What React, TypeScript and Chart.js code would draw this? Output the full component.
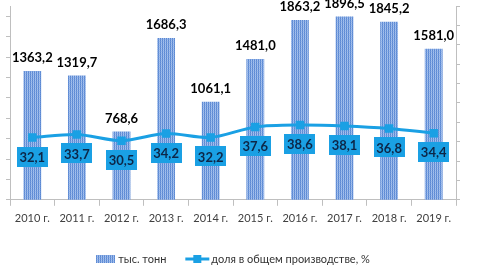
import React, { useEffect, useRef } from "react";
import { Chart, registerables } from "chart.js";

Chart.register(...registerables);

const categories = ["2010 г.", "2011 г.", "2012 г.", "2013 г.", "2014 г.", "2015 г.", "2016 г.", "2017 г.", "2018 г.", "2019 г."];
const volume = [1363.2, 1319.7, 768.6, 1686.3, 1061.1, 1481.0, 1863.2, 1896.5, 1845.2, 1581.0];
const share = [32.1, 33.7, 30.5, 34.2, 32.2, 37.6, 38.6, 38.1, 36.8, 34.4];
const leftTicks = [100, 300, 500, 700, 900, 1100, 1300, 1500, 1700, 1900];
const seriesLabels = ["тыс. тонн", "доля в общем производстве, %"];

const FONT = "Lato, 'Open Sans', sans-serif";
const LINE_COLOR = "#1aa0e4";
const LABEL_TEXT = "#0d2647";
const AXIS_COLOR = "#bfbfbf";

const fmt = (v: number) => v.toFixed(1).replace(".", ",");

function makePattern(): CanvasPattern | string {
  const c = document.createElement("canvas");
  c.width = 2;
  c.height = 2;
  const g = c.getContext("2d");
  if (!g) return "#7ea3de";
  g.fillStyle = "#a6c2ee";
  g.fillRect(0, 0, 2, 2);
  g.fillStyle = "#5b88d2";
  g.fillRect(0, 0, 1, 1);
  g.fillStyle = "#6a94d9";
  g.fillRect(0, 1, 1, 1);
  g.fillStyle = "#94b4e8";
  g.fillRect(1, 1, 1, 1);
  const p = g.createPattern(c, "repeat");
  return p || "#7ea3de";
}

export default function App() {
  const ref = useRef<HTMLCanvasElement | null>(null);

  useEffect(() => {
    if (!ref.current) return;
    const pattern = makePattern();

    const labelsPlugin = {
      id: "valueLabels",
      afterDatasetsDraw(chart: any) {
        const ctx = chart.ctx;
        ctx.save();
        const barMeta = chart.getDatasetMeta(0);
        ctx.font = `bold 13px ${FONT}`;
        ctx.fillStyle = "#000";
        ctx.textAlign = "center";
        ctx.textBaseline = "middle";
        barMeta.data.forEach((el: any, i: number) => {
          ctx.fillText(fmt(volume[i]), el.x, el.y - 13);
        });
        const lineMeta = chart.getDatasetMeta(1);
        lineMeta.data.forEach((el: any, i: number) => {
          const cy = el.y + 19;
          const w = 31;
          const h = 20;
          ctx.fillStyle = LINE_COLOR;
          ctx.fillRect(Math.round(el.x - w / 2), Math.round(cy - h / 2), w, h);
          ctx.fillStyle = LABEL_TEXT;
          ctx.fillText(fmt(share[i]), el.x, cy + 1);
        });
        ctx.restore();
      },
      afterDraw(chart: any) {
        const ctx = chart.ctx;
        const area = chart.chartArea;
        ctx.save();
        ctx.font = `11px ${FONT}`;
        ctx.textBaseline = "middle";
        ctx.textAlign = "left";
        const y = 259;
        const sw1 = 19;
        const gap = 3;
        const sw2 = 24;
        const between = 19;
        const t1 = ctx.measureText(seriesLabels[0]).width;
        const t2 = ctx.measureText(seriesLabels[1]).width;
        const total = sw1 + gap + t1 + between + sw2 + 2 + t2;
        let x = (area.left + area.right) / 2 - total / 2;
        ctx.fillStyle = pattern as any;
        ctx.fillRect(Math.round(x), y - 4, sw1, 8);
        x += sw1 + gap;
        ctx.fillStyle = "#333";
        ctx.fillText(seriesLabels[0], x, y);
        x += t1 + between;
        ctx.strokeStyle = LINE_COLOR;
        ctx.lineWidth = 3;
        ctx.beginPath();
        ctx.moveTo(x, y);
        ctx.lineTo(x + sw2, y);
        ctx.stroke();
        ctx.fillStyle = LINE_COLOR;
        ctx.fillRect(x + sw2 / 2 - 4, y - 4, 8, 8);
        x += sw2 + 2;
        ctx.fillStyle = "#333";
        ctx.fillText(seriesLabels[1], x, y);
        ctx.restore();
      },
    };

    const chart = new Chart(ref.current, {
      type: "bar",
      data: {
        labels: categories,
        datasets: [
          {
            type: "bar",
            label: seriesLabels[0],
            data: volume,
            backgroundColor: pattern as any,
            borderWidth: 0,
            barPercentage: 0.4,
            categoryPercentage: 1,
            yAxisID: "y",
            order: 2,
          },
          {
            type: "line",
            label: seriesLabels[1],
            data: share,
            borderColor: LINE_COLOR,
            backgroundColor: LINE_COLOR,
            borderWidth: 3,
            pointStyle: "rect",
            pointRadius: 6,
            pointBackgroundColor: LINE_COLOR,
            pointBorderWidth: 0,
            tension: 0.3,
            yAxisID: "y1",
            order: 1,
          },
        ],
      } as any,
      options: {
        animation: false,
        responsive: false,
        layout: { padding: { top: 6, left: 6, right: 19, bottom: 37 } },
        plugins: {
          legend: { display: false },
          tooltip: { enabled: false },
        },
        scales: {
          x: {
            offset: true,
            grid: { offset: true, drawOnChartArea: false, tickLength: 6, color: AXIS_COLOR },
            border: { color: AXIS_COLOR },
            ticks: { font: { family: FONT, size: 11 }, color: "#404040", padding: 6, maxRotation: 0 },
          },
          y: {
            position: "left",
            min: 100,
            max: 2000,
            afterBuildTicks: (scale: any) => {
              scale.ticks = leftTicks.map((v) => ({ value: v }));
            },
            grid: { drawOnChartArea: false, tickLength: 4, color: AXIS_COLOR },
            border: { color: AXIS_COLOR },
            ticks: { display: false },
          },
          y1: {
            position: "right",
            min: 0,
            max: 100,
            grid: { drawOnChartArea: false, tickLength: 4, color: AXIS_COLOR },
            border: { color: AXIS_COLOR },
            ticks: { display: false, stepSize: 10 },
          },
        },
      } as any,
      plugins: [labelsPlugin],
    });
    return () => chart.destroy();
  }, []);

  return (
    <div style={{ position: "absolute", left: 0, top: 0, width: 479, height: 268, background: "#fff" }}>
      <canvas ref={ref} width={479} height={268} />
    </div>
  );
}
